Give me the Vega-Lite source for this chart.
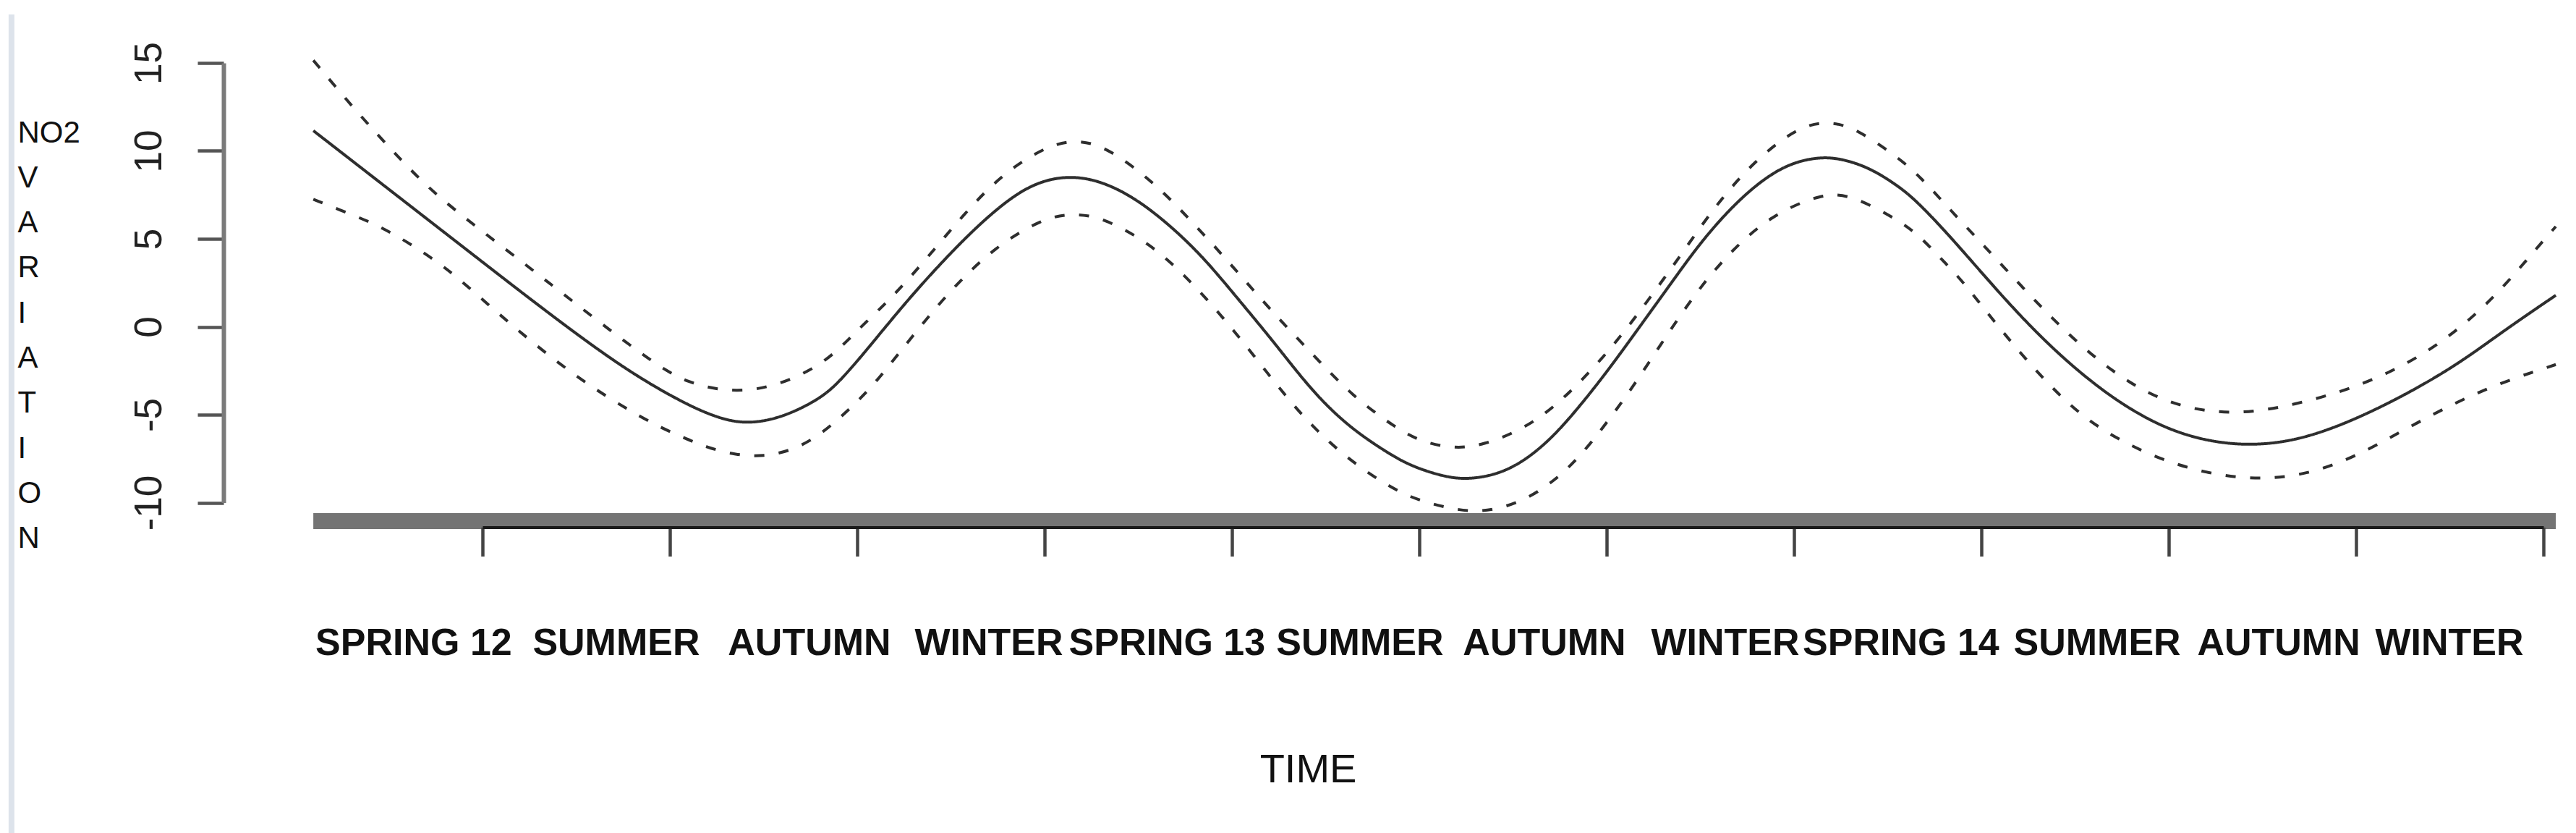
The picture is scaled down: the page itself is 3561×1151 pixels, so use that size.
{
  "$schema": "https://vega.github.io/schema/vega-lite/v6.json",
  "autosize": "none",
  "width": 2849,
  "height": 607.5,
  "padding": {"left": 667, "top": 87, "right": 45, "bottom": 456.5},
  "background": "white",
  "config": {"view": {"stroke": null}},
  "datasets": {
    "curves": [
      {"s":"fit","t":0.097,"v":11.15},{"s":"fit","t":0.560,"v":7.32},{"s":"fit","t":0.954,"v":4.06},{"s":"fit","t":1.347,"v":0.81},{"s":"fit","t":1.741,"v":-2.29},{"s":"fit","t":2.037,"v":-4.14},{"s":"fit","t":2.232,"v":-5.11},{"s":"fit","t":2.400,"v":-5.56},{"s":"fit","t":2.590,"v":-5.20},{"s":"fit","t":2.766,"v":-4.30},{"s":"fit","t":2.865,"v":-3.55},{"s":"fit","t":2.960,"v":-2.45},{"s":"fit","t":3.060,"v":-1.20},{"s":"fit","t":3.259,"v":1.40},{"s":"fit","t":3.456,"v":3.73},{"s":"fit","t":3.653,"v":5.86},{"s":"fit","t":3.850,"v":7.61},{"s":"fit","t":4.007,"v":8.39},{"s":"fit","t":4.165,"v":8.58},{"s":"fit","t":4.323,"v":8.19},{"s":"fit","t":4.480,"v":7.32},{"s":"fit","t":4.638,"v":6.06},{"s":"fit","t":4.835,"v":4.12},{"s":"fit","t":5.032,"v":1.59},{"s":"fit","t":5.229,"v":-0.93},{"s":"fit","t":5.426,"v":-3.65},{"s":"fit","t":5.623,"v":-5.69},{"s":"fit","t":5.820,"v":-7.10},{"s":"fit","t":5.958,"v":-7.95},{"s":"fit","t":6.155,"v":-8.60},{"s":"fit","t":6.273,"v":-8.66},{"s":"fit","t":6.411,"v":-8.41},{"s":"fit","t":6.549,"v":-7.73},{"s":"fit","t":6.706,"v":-6.37},{"s":"fit","t":6.864,"v":-4.43},{"s":"fit","t":7.021,"v":-2.29},{"s":"fit","t":7.179,"v":0.04},{"s":"fit","t":7.337,"v":2.37},{"s":"fit","t":7.494,"v":4.70},{"s":"fit","t":7.652,"v":6.64},{"s":"fit","t":7.809,"v":8.19},{"s":"fit","t":7.967,"v":9.26},{"s":"fit","t":8.124,"v":9.65},{"s":"fit","t":8.243,"v":9.59},{"s":"fit","t":8.400,"v":9.07},{"s":"fit","t":8.558,"v":8.00},{"s":"fit","t":8.660,"v":7.10},{"s":"fit","t":8.850,"v":4.95},{"s":"fit","t":9.105,"v":1.79},{"s":"fit","t":9.330,"v":-0.74},{"s":"fit","t":9.554,"v":-2.88},{"s":"fit","t":9.778,"v":-4.62},{"s":"fit","t":10.002,"v":-5.88},{"s":"fit","t":10.227,"v":-6.56},{"s":"fit","t":10.451,"v":-6.76},{"s":"fit","t":10.676,"v":-6.47},{"s":"fit","t":10.900,"v":-5.69},{"s":"fit","t":11.124,"v":-4.62},{"s":"fit","t":11.349,"v":-3.36},{"s":"fit","t":11.573,"v":-1.91},{"s":"fit","t":11.797,"v":-0.16},{"s":"fit","t":12.066,"v":1.79},
      {"s":"upper","t":0.097,"v":15.15},{"s":"upper","t":0.324,"v":12.27},{"s":"upper","t":0.541,"v":9.75},{"s":"upper","t":0.747,"v":7.48},{"s":"upper","t":1.112,"v":4.51},{"s":"upper","t":1.476,"v":1.49},{"s":"upper","t":1.722,"v":-0.54},{"s":"upper","t":1.959,"v":-2.39},{"s":"upper","t":2.097,"v":-3.16},{"s":"upper","t":2.254,"v":-3.59},{"s":"upper","t":2.412,"v":-3.65},{"s":"upper","t":2.550,"v":-3.36},{"s":"upper","t":2.697,"v":-2.78},{"s":"upper","t":2.835,"v":-1.91},{"s":"upper","t":2.944,"v":-0.84},{"s":"upper","t":3.042,"v":0.23},{"s":"upper","t":3.170,"v":1.49},{"s":"upper","t":3.367,"v":3.82},{"s":"upper","t":3.564,"v":6.35},{"s":"upper","t":3.781,"v":8.78},{"s":"upper","t":4.037,"v":10.43},{"s":"upper","t":4.195,"v":10.62},{"s":"upper","t":4.342,"v":10.14},{"s":"upper","t":4.588,"v":8.19},{"s":"upper","t":4.805,"v":5.77},{"s":"upper","t":5.012,"v":3.34},{"s":"upper","t":5.209,"v":0.91},{"s":"upper","t":5.426,"v":-1.51},{"s":"upper","t":5.642,"v":-3.94},{"s":"upper","t":5.879,"v":-5.79},{"s":"upper","t":6.017,"v":-6.56},{"s":"upper","t":6.174,"v":-6.91},{"s":"upper","t":6.332,"v":-6.80},{"s":"upper","t":6.608,"v":-5.59},{"s":"upper","t":6.834,"v":-3.46},{"s":"upper","t":7.041,"v":-1.03},{"s":"upper","t":7.228,"v":1.59},{"s":"upper","t":7.405,"v":4.21},{"s":"upper","t":7.583,"v":6.93},{"s":"upper","t":7.790,"v":9.46},{"s":"upper","t":8.026,"v":11.40},{"s":"upper","t":8.184,"v":11.69},{"s":"upper","t":8.331,"v":11.30},{"s":"upper","t":8.577,"v":9.46},{"s":"upper","t":8.679,"v":8.45},{"s":"upper","t":8.800,"v":7.05},{"s":"upper","t":8.903,"v":5.86},{"s":"upper","t":9.116,"v":3.44},{"s":"upper","t":9.318,"v":1.11},{"s":"upper","t":9.542,"v":-1.22},{"s":"upper","t":9.789,"v":-3.26},{"s":"upper","t":10.058,"v":-4.62},{"s":"upper","t":10.373,"v":-5.01},{"s":"upper","t":10.676,"v":-4.43},{"s":"upper","t":10.967,"v":-3.56},{"s":"upper","t":11.248,"v":-2.29},{"s":"upper","t":11.506,"v":-0.54},{"s":"upper","t":11.741,"v":1.69},{"s":"upper","t":11.943,"v":4.21},{"s":"upper","t":12.066,"v":5.70},
      {"s":"lower","t":0.097,"v":7.25},{"s":"lower","t":0.284,"v":6.45},{"s":"lower","t":0.422,"v":5.86},{"s":"lower","t":0.550,"v":5.13},{"s":"lower","t":0.688,"v":4.21},{"s":"lower","t":0.816,"v":3.24},{"s":"lower","t":0.934,"v":2.17},{"s":"lower","t":1.161,"v":0.04},{"s":"lower","t":1.407,"v":-2.10},{"s":"lower","t":1.653,"v":-3.94},{"s":"lower","t":1.919,"v":-5.59},{"s":"lower","t":2.067,"v":-6.27},{"s":"lower","t":2.195,"v":-6.86},{"s":"lower","t":2.353,"v":-7.30},{"s":"lower","t":2.500,"v":-7.38},{"s":"lower","t":2.648,"v":-7.05},{"s":"lower","t":2.786,"v":-6.27},{"s":"lower","t":2.905,"v":-5.21},{"s":"lower","t":3.022,"v":-4.04},{"s":"lower","t":3.121,"v":-2.88},{"s":"lower","t":3.308,"v":-0.35},{"s":"lower","t":3.505,"v":2.17},{"s":"lower","t":3.732,"v":4.51},{"s":"lower","t":3.988,"v":6.16},{"s":"lower","t":4.145,"v":6.45},{"s":"lower","t":4.303,"v":6.25},{"s":"lower","t":4.559,"v":4.79},{"s":"lower","t":4.785,"v":2.56},{"s":"lower","t":4.992,"v":0.04},{"s":"lower","t":5.179,"v":-2.49},{"s":"lower","t":5.367,"v":-5.01},{"s":"lower","t":5.593,"v":-7.34},{"s":"lower","t":5.849,"v":-9.19},{"s":"lower","t":5.997,"v":-9.87},{"s":"lower","t":6.135,"v":-10.26},{"s":"lower","t":6.283,"v":-10.55},{"s":"lower","t":6.431,"v":-10.35},{"s":"lower","t":6.578,"v":-9.77},{"s":"lower","t":6.716,"v":-8.80},{"s":"lower","t":6.834,"v":-7.63},{"s":"lower","t":6.943,"v":-6.27},{"s":"lower","t":7.120,"v":-3.75},{"s":"lower","t":7.287,"v":-1.03},{"s":"lower","t":7.465,"v":1.79},{"s":"lower","t":7.652,"v":4.21},{"s":"lower","t":7.878,"v":6.35},{"s":"lower","t":8.154,"v":7.61},{"s":"lower","t":8.312,"v":7.48},{"s":"lower","t":8.577,"v":5.96},{"s":"lower","t":8.690,"v":4.95},{"s":"lower","t":8.800,"v":3.70},{"s":"lower","t":8.903,"v":2.56},{"s":"lower","t":9.094,"v":-0.06},{"s":"lower","t":9.296,"v":-2.58},{"s":"lower","t":9.520,"v":-5.01},{"s":"lower","t":9.767,"v":-6.66},{"s":"lower","t":10.047,"v":-7.93},{"s":"lower","t":10.361,"v":-8.66},{"s":"lower","t":10.664,"v":-8.61},{"s":"lower","t":10.956,"v":-7.63},{"s":"lower","t":11.236,"v":-5.98},{"s":"lower","t":11.506,"v":-4.43},{"s":"lower","t":11.775,"v":-3.16},{"s":"lower","t":12.066,"v":-2.15}
    ],
    "seasons": [
      {"label":"SPRING 12","t":0.633},{"label":"SUMMER","t":1.714},{"label":"AUTUMN","t":2.745},{"label":"WINTER","t":3.703},
      {"label":"SPRING 13","t":4.654},{"label":"SUMMER","t":5.683},{"label":"AUTUMN","t":6.668},{"label":"WINTER","t":7.633},
      {"label":"SPRING 14","t":8.571},{"label":"SUMMER","t":9.618},{"label":"AUTUMN","t":10.587},{"label":"WINTER","t":11.498}
    ]
  },
  "layer": [
    {
      "data": {"values": [{"rug": "observations"}]},
      "mark": {"type": "rect", "color": "#747474"},
      "encoding": {
        "x": {"datum": 0.097, "type": "quantitative"},
        "x2": {"datum": 12.066},
        "y": {"datum": -10.60, "type": "quantitative"},
        "y2": {"datum": -11.50}
      }
    },
    {
      "data": {"name": "curves"},
      "mark": {"type": "line", "interpolate": "basis", "color": "#2e2e2e", "strokeWidth": 4},
      "encoding": {
        "x": {
          "field": "t", "type": "quantitative",
          "scale": {"domain": [1, 12], "nice": false, "zero": false},
          "axis": {
            "values": [1,2,3,4,5,6,7,8,9,10,11,12],
            "labels": false, "grid": false,
            "offset": 34, "zindex": 2,
            "domainColor": "#1a1a1a", "domainWidth": 4,
            "tickColor": "#444444", "tickWidth": 4.5, "tickSize": 40,
            "title": "TIME",
            "titleFont": "Liberation Sans", "titleFontSize": 56, "titleFontWeight": "normal", "titleColor": "#111111",
            "titleAlign": "center", "titleBaseline": "middle", "titleAnchor": "start",
            "titleX": 1141, "titleY": 335
          }
        },
        "y": {
          "field": "v", "type": "quantitative",
          "scale": {"domain": [-10, 15], "nice": false, "zero": false},
          "axis": {
            "values": [-10, -5, 0, 5, 10, 15],
            "labelExpr": "'' + datum.value",
            "grid": false,
            "offset": 358,
            "domainColor": "#7a7a7a", "domainWidth": 6,
            "tickColor": "#555555", "tickWidth": 4.5, "tickSize": 36,
            "labelAngle": -90, "labelAlign": "center", "labelBaseline": "alphabetic",
            "labelPadding": 51, "labelFont": "Liberation Sans", "labelFontSize": 53, "labelColor": "#222222",
            "labelOverlap": false, "labelFlush": false,
            "title": ["NO2", "V", "A", "R", "I", "A", "T", "I", "O", "N"],
            "titleFont": "Liberation Sans", "titleFontSize": 42, "titleFontWeight": "normal", "titleColor": "#111111",
            "titleAngle": 0, "titleAlign": "left", "titleBaseline": "alphabetic", "titleLineHeight": 62.3,
            "titleX": -285, "titleY": 109
          }
        },
        "detail": {"field": "s", "type": "nominal"},
        "strokeDash": {
          "field": "s", "type": "nominal",
          "scale": {"domain": ["fit", "upper", "lower"], "range": [[1, 0], [14, 20], [14, 20]]},
          "legend": null
        }
      }
    },
    {
      "data": {"values": [{"frame": "left"}]},
      "mark": {"type": "rule", "color": "#dde3eb", "strokeWidth": 8},
      "encoding": {
        "x": {"datum": -1.514, "type": "quantitative"},
        "y": {"datum": 17.76, "type": "quantitative"},
        "y2": {"datum": -28.8}
      }
    },
    {
      "data": {"name": "seasons"},
      "mark": {"type": "text", "font": "Liberation Sans", "fontSize": 52, "fontWeight": "bold", "align": "center", "baseline": "middle", "color": "#111111"},
      "encoding": {
        "x": {"field": "t", "type": "quantitative"},
        "y": {"datum": -18.0, "type": "quantitative"},
        "text": {"field": "label", "type": "nominal"}
      }
    }
  ]
}
